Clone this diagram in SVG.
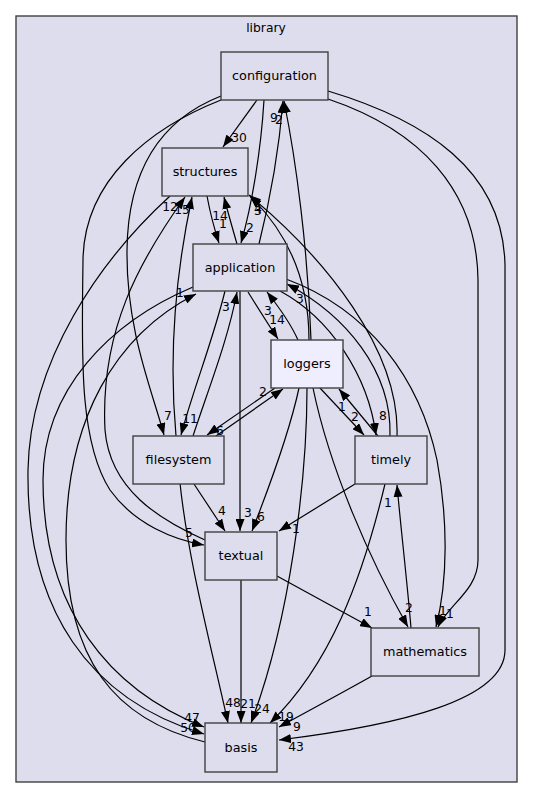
<svg xmlns="http://www.w3.org/2000/svg" width="533" height="799" viewBox="0 0 533 799">
<defs>
<style>
text{font-family:"DejaVu Sans","Liberation Sans",sans-serif;font-size:12.3px;fill:#000}
.n text{text-anchor:middle;font-size:12.8px}
.n rect{fill:#ddddee;stroke:#404040;stroke-width:1.4}
.cur rect{fill:#eeeeff}
.e path{fill:none;stroke:#000;stroke-width:1.2;marker-end:url(#ah)}
.lbl text{text-anchor:middle}
</style>
<marker id="ah" viewBox="0 0 12 9" refX="12" refY="4.5" markerWidth="12" markerHeight="9" markerUnits="userSpaceOnUse" orient="auto"><path d="M0,0 L12,4.5 L0,9 z" fill="#000"/></marker>
</defs>
<rect width="533" height="799" fill="#fff"/>
<g id="cluster_library">
<rect x="16" y="16" width="501" height="766" fill="#ddddee" stroke="#404040" stroke-width="1.4"/>
<text x="266" y="32" text-anchor="middle">library</text>
</g>
<g id="connectors" class="e">
<path d="M257,100 L223,147"/>
<path d="M264,100 C261,150 252,205 241,243"/>
<path d="M259,244 C270,200 279,150 283,101"/>
<path d="M311,340 C308,250 296,160 284,101"/>
<path d="M221,96 C165,118 128,165 127,250 C126,330 152,390 164,435"/>
<path d="M221,100 C150,128 84,180 83,260 C82,350 78,440 110,490 C135,525 175,540 204,545"/>
<path d="M328,99 C420,130 477,190 478,280 L478,560 C478,590 448,605 438,627"/>
<path d="M328,91 C425,120 503,170 505,265 L505,650 C505,700 400,725 279,740"/>
<path d="M207,196 C210,212 214,228 219,243"/>
<path d="M237,244 C233,230 228,213 224,197"/>
<path d="M170,196 C100,260 30,360 28,470 C26,610 90,700 204,734"/>
<path d="M193,287 C110,322 43,390 43,480 C43,610 110,690 204,727"/>
<path d="M205,742 C115,720 66,660 66,540 C66,420 115,335 196,294"/>
<path d="M205,540 C160,520 110,490 105,430 C100,330 140,260 185,197"/>
<path d="M176,436 C170,370 172,290 192,197"/>
<path d="M248,292 C258,308 268,324 278,339"/>
<path d="M298,340 C290,322 278,306 267,292"/>
<path d="M225,291 C213,340 193,390 181,435"/>
<path d="M193,436 C208,390 228,340 237,292"/>
<path d="M240,291 L240,531"/>
<path d="M280,291 C330,318 368,375 376,435"/>
<path d="M390,436 C392,370 345,315 287,284"/>
<path d="M286,279 C370,310 420,380 437,460 C448,520 448,580 436,627"/>
<path d="M397,436 C400,350 325,258 249,195"/>
<path d="M309,340 C309,285 290,235 250,196"/>
<path d="M275,388 L207,435"/>
<path d="M216,436 L283,389"/>
<path d="M320,388 L364,435"/>
<path d="M378,436 L339,389"/>
<path d="M299,388 C290,430 270,485 252,531"/>
<path d="M194,484 L225,531"/>
<path d="M355,484 L279,531"/>
<path d="M307,388 C307,480 290,620 251,723"/>
<path d="M313,388 C330,470 370,560 408,627"/>
<path d="M180,483 C188,560 212,650 228,723"/>
<path d="M385,484 C362,580 330,665 270,723"/>
<path d="M372,676 C340,694 310,710 279,727"/>
<path d="M277,576 L372,628"/>
<path d="M241,580 L241,723"/>
<path d="M411,628 C407,580 401,530 397,485"/>
</g>
<g id="edge_labels" class="lbl">
<text x="239" y="142">30</text>
<text x="250" y="232">2</text>
<text x="274" y="122">9</text>
<text x="279" y="124">2</text>
<text x="168" y="420">7</text>
<text x="189" y="537">5</text>
<text x="443" y="615">1</text>
<text x="450" y="618">1</text>
<text x="296" y="751">43</text>
<text x="223" y="228">1</text>
<text x="220" y="220">14</text>
<text x="188" y="732">50</text>
<text x="192" y="722">47</text>
<text x="180" y="297">1</text>
<text x="170" y="211">12</text>
<text x="182" y="214">15</text>
<text x="277" y="324">14</text>
<text x="268" y="315">3</text>
<text x="190" y="423">11</text>
<text x="226" y="311">3</text>
<text x="248" y="517">3</text>
<text x="383" y="420">8</text>
<text x="300" y="303">3</text>
<text x="258" y="215">3</text>
<text x="258" y="213">4</text>
<text x="220" y="435">6</text>
<text x="263" y="396">2</text>
<text x="355" y="421">2</text>
<text x="342" y="411">1</text>
<text x="261" y="521">6</text>
<text x="222" y="515">4</text>
<text x="296" y="533">1</text>
<text x="262" y="713">24</text>
<text x="409" y="612">2</text>
<text x="233" y="707">48</text>
<text x="286" y="721">19</text>
<text x="297" y="731">9</text>
<text x="368" y="616">1</text>
<text x="248" y="708">21</text>
<text x="388" y="507">1</text>
</g>
<g id="configuration" class="n"><rect x="221" y="52" width="107" height="48"/><text x="274.5" y="80">configuration</text></g>
<g id="structures" class="n"><rect x="162" y="148" width="86" height="48"/><text x="205" y="176">structures</text></g>
<g id="application" class="n"><rect x="193" y="244" width="94" height="47"/><text x="240" y="272">application</text></g>
<g id="loggers" class="n cur"><rect x="271" y="340" width="72" height="48"/><text x="307" y="368">loggers</text></g>
<g id="filesystem" class="n"><rect x="133" y="436" width="91" height="48"/><text x="178.5" y="464">filesystem</text></g>
<g id="timely" class="n"><rect x="355" y="436" width="72" height="48"/><text x="391" y="464">timely</text></g>
<g id="textual" class="n"><rect x="205" y="532" width="72" height="48"/><text x="241" y="560">textual</text></g>
<g id="mathematics" class="n"><rect x="371" y="628" width="108" height="48"/><text x="425" y="656">mathematics</text></g>
<g id="basis" class="n"><rect x="205" y="723" width="72" height="49"/><text x="241" y="752">basis</text></g>
</svg>
